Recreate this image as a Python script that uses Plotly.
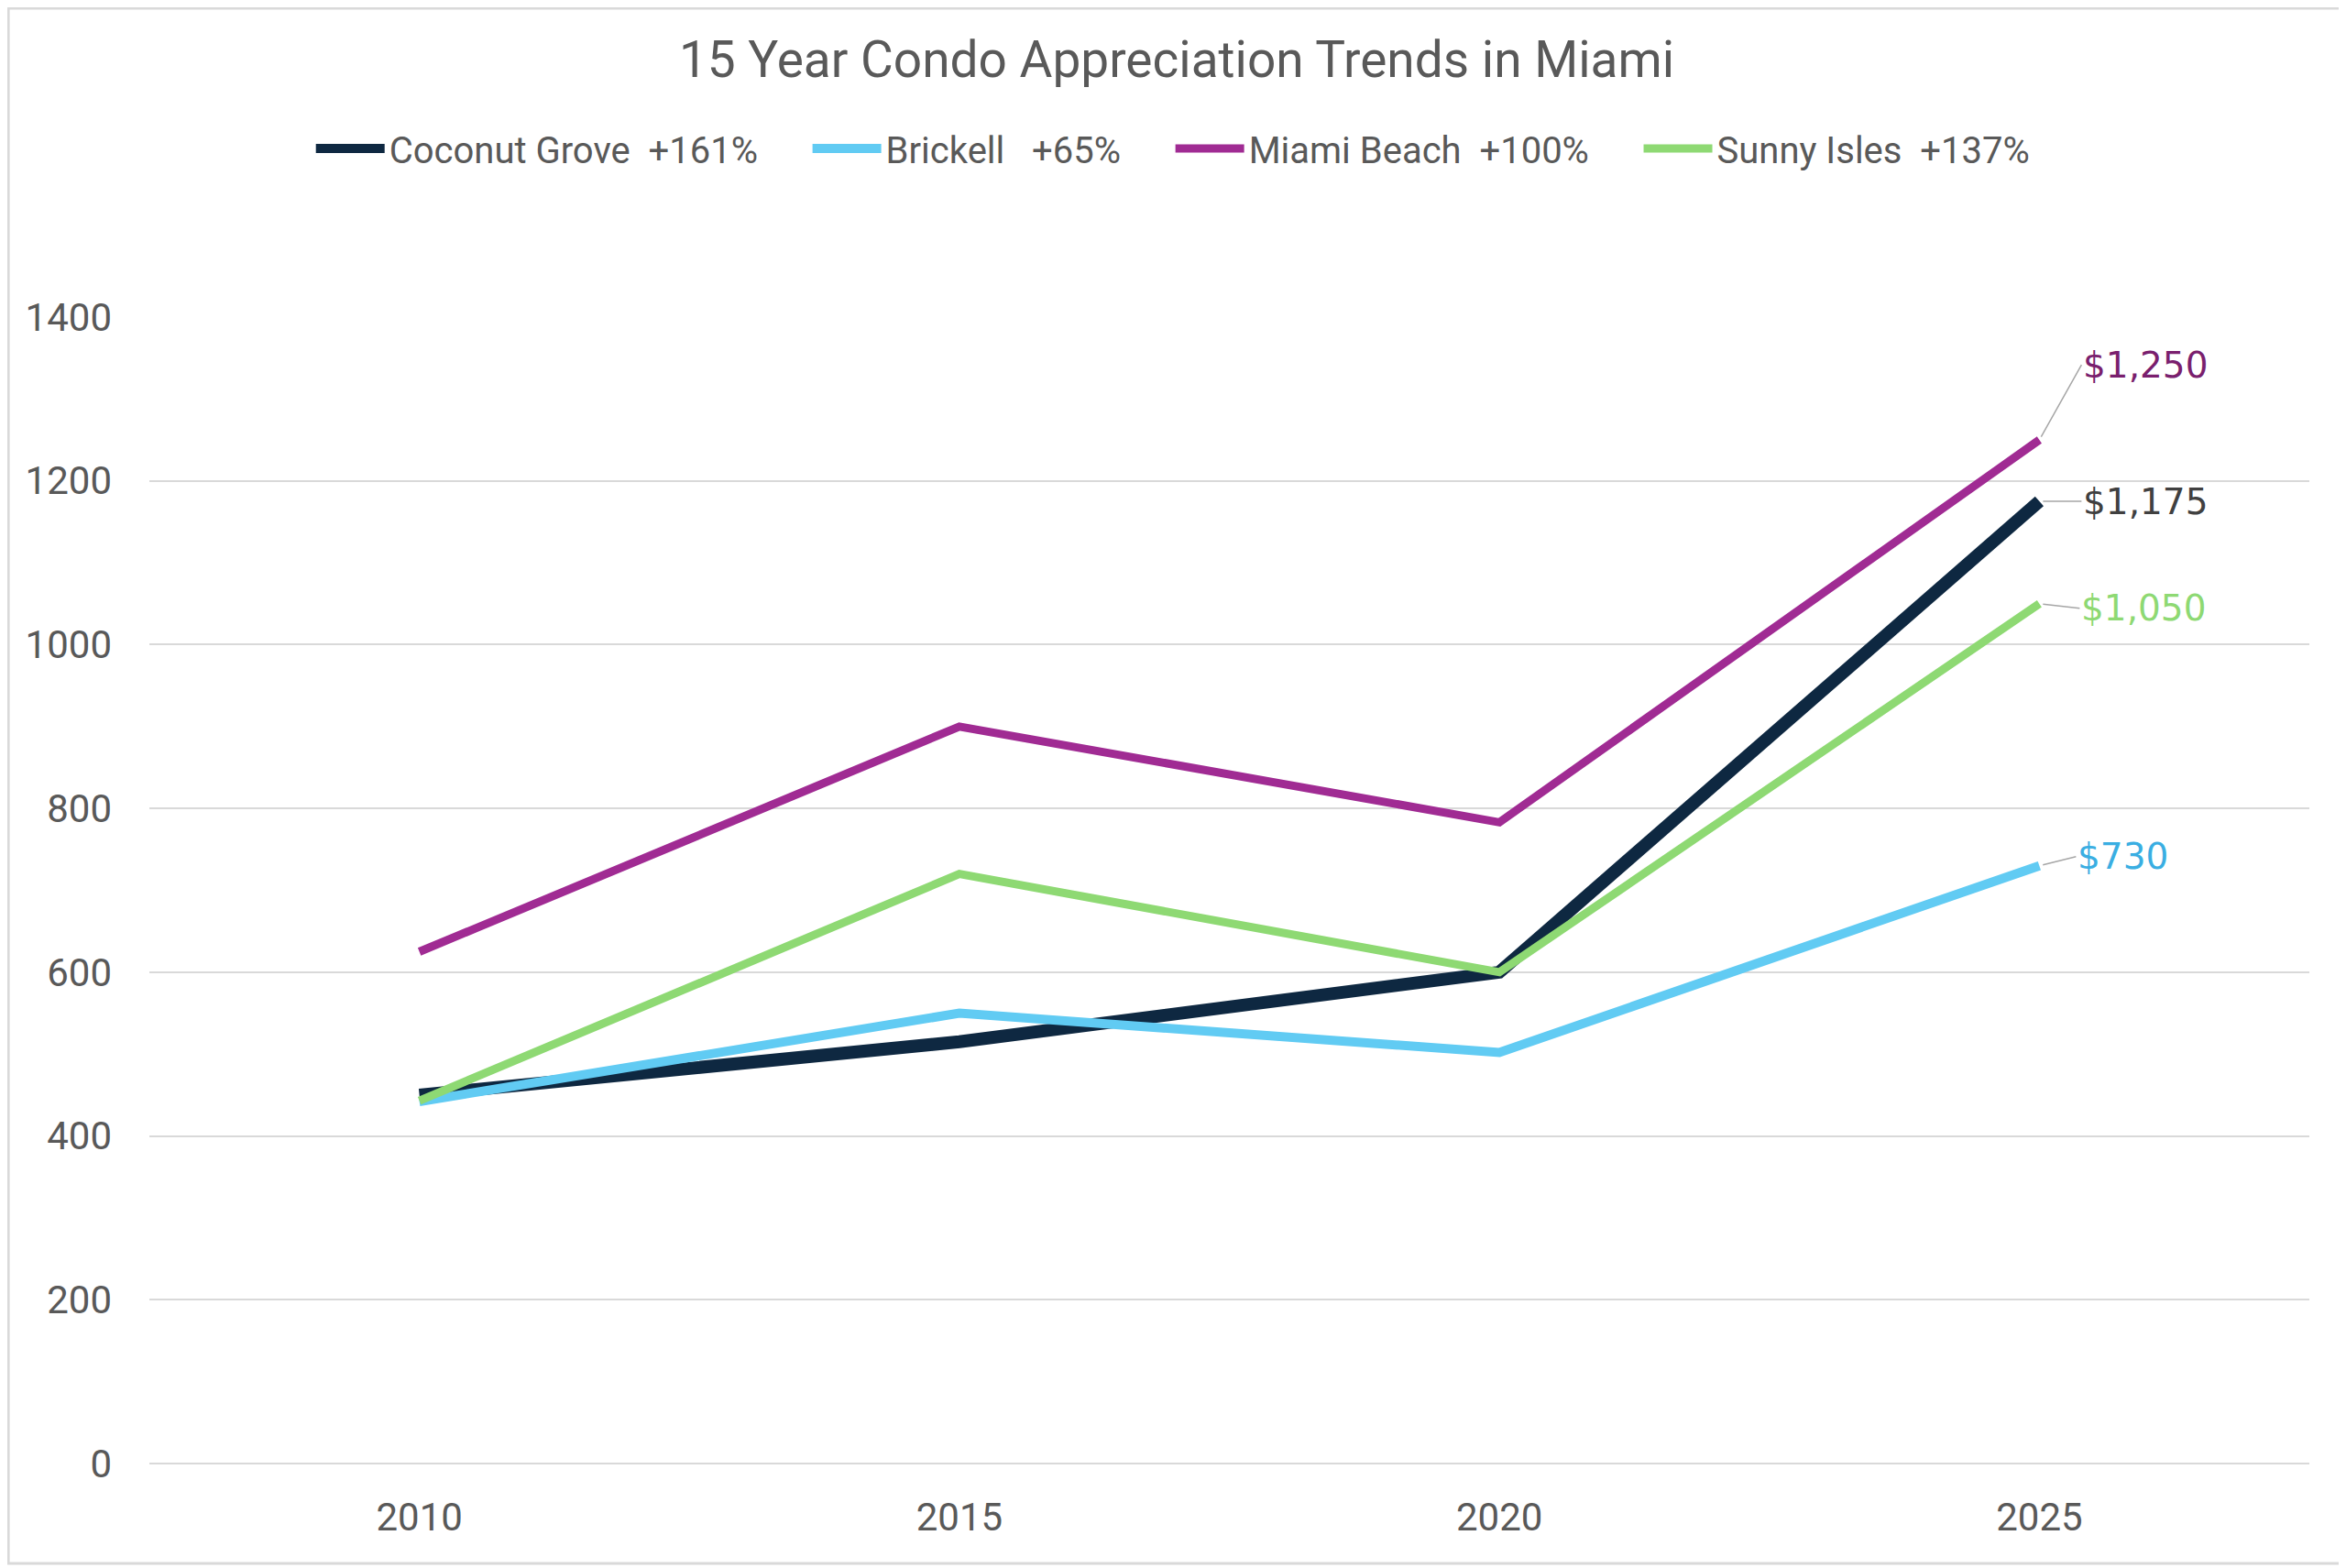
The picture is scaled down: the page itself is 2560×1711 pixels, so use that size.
import plotly.graph_objects as go

# chart data
years = ["2010", "2015", "2020", "2025"]
coconut_grove = [450, 515, 600, 1175]
brickell = [442, 550, 502, 730]
miami_beach = [625, 900, 783, 1250]
sunny_isles = [443, 720, 600, 1050]

pad = "\u00a0" * 5
names = ["Coconut Grove\u00a0 +161%" + pad, "Brickell\u00a0\u00a0 +65%" + pad,
         "Miami Beach\u00a0 +100%" + pad, "Sunny Isles\u00a0 +137%"]
end_labels = ["$1,175", "$730", "$1,250", "$1,050"]

series = [coconut_grove, brickell, miami_beach, sunny_isles]
line_colors = ["#0E2841", "#61CBF3", "#A02B93", "#8ED973"]
label_colors = ["#404040", "#3AAEE2", "#7A1F6E", "#8ED973"]
line_widths = [14, 10, 9, 9]
# label offsets from last point (px)
label_offsets = [(46, 0), (40, -10), (46, -82), (44, 5)]

fig = go.Figure()
for vals, name, col, w in zip(series, names, line_colors, line_widths):
    fig.add_trace(go.Scatter(x=years, y=vals, mode='lines', name=name,
                             line=dict(color=col, width=w, shape='linear')))

last = len(years) - 1
for vals, lab, col, off in zip(series, end_labels, label_colors, label_offsets):
    fig.add_annotation(x=last, y=vals[-1], text=lab, showarrow=True,
                       arrowhead=0, arrowwidth=1.5, arrowcolor="#A6A6A6",
                       ax=off[0], ay=off[1], xanchor='left', standoff=4,
                       font=dict(family="DejaVu Sans", size=39, color=col))

# light frame around the chart area
fig.add_shape(type="rect", xref="paper", yref="paper",
              x0=-0.0653, x1=1.0153, y0=-0.0871, y1=1.2694,
              line=dict(color="#D9D9D9", width=3), layer="below")

fig.update_layout(
    width=2552, height=1703,
    margin=dict(l=155, r=40, t=338, b=114),
    paper_bgcolor="white", plot_bgcolor="white",
    font=dict(family="Roboto", color="#595959"),
    title={'text': "15 Year Condo Appreciation Trends in Miami",
           'font': {'size': 55, 'color': "#595959"},
           'x': 0.5, 'xanchor': 'center', 'y': 0.9665, 'yanchor': 'middle'},
    legend=dict(orientation='h', x=0.474, xanchor='center', y=1.147,
                yanchor='middle', font=dict(size=40), itemwidth=75,
                bgcolor='rgba(0,0,0,0)'),
    showlegend=True,
)
fig.update_xaxes(type='category', range=[-0.5, len(years) - 0.5],
                 showgrid=False, showline=False,
                 tickfont=dict(size=42), ticks="", ticklabelstandoff=30)
fig.update_yaxes(range=[0, 1400], dtick=200, showgrid=True,
                 gridcolor="#D9D9D9", gridwidth=2, zeroline=True,
                 zerolinecolor="#D9D9D9", zerolinewidth=2,
                 tickfont=dict(size=42), ticks="", ticklabelstandoff=40,
                 showline=False)

fig.write_html("out.html")
